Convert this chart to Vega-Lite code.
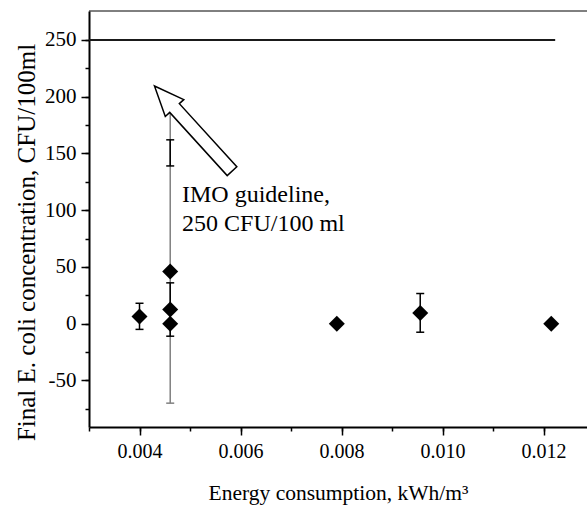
{
  "$schema": "https://vega.github.io/schema/vega-lite/v6.json",
  "width": 498,
  "height": 416,
  "autosize": "none",
  "padding": {"left": 89, "top": 11, "right": 0, "bottom": 81},
  "background": "white",
  "config": {
    "view": {"stroke": null},
    "font": "Liberation Serif",
    "axis": {
      "grid": false,
      "domainColor": "black",
      "domainWidth": 2,
      "tickColor": "black",
      "tickWidth": 1.5,
      "labelColor": "black",
      "labelFont": "Liberation Serif",
      "labelFontSize": 20,
      "labelOverlap": false,
      "titleFont": "Liberation Serif",
      "titleColor": "black",
      "titleFontWeight": "normal"
    }
  },
  "resolve": {"axis": {"x": "independent", "y": "independent"}},
  "datasets": {
    "pts": [
      {"e": 0.004, "c": 6.3},
      {"e": 0.004608, "c": 46},
      {"e": 0.004608, "c": 12.5},
      {"e": 0.004608, "c": 0},
      {"e": 0.007907, "c": 0},
      {"e": 0.009558, "c": 9.5},
      {"e": 0.012152, "c": 0}
    ],
    "err": [
      {"e": 0.004608, "lo": -70, "hi": 186, "col": "g"},
      {"e": 0.004, "lo": -5, "hi": 18, "col": "k"},
      {"e": 0.004608, "lo": -11, "hi": 36, "col": "k"},
      {"e": 0.004608, "lo": 139, "hi": 162, "col": "k"},
      {"e": 0.009558, "lo": -7.5, "hi": 26.6, "col": "k"}
    ],
    "guide": [{"e": 0.003, "e2": 0.01223, "c": 250}],
    "topline": [{"c": 275.5}],
    "arrow": [{"e": 0.005064, "c": 171.9}],
    "annot": [{"e": 0.004842, "c": 107.4, "t": "IMO guideline,\n250 CFU/100 ml"}]
  },
  "layer": [
    {
      "data": {"name": "topline"},
      "mark": {"type": "rule", "color": "black", "strokeWidth": 1},
      "encoding": {
        "y": {"field": "c", "type": "quantitative", "scale": {"domain": [-91, 275.5], "nice": false, "zero": false},
          "axis": {
            "orient": "left",
            "values": [-50, 0, 50, 100, 150, 200, 250],
            "labelExpr": "replace(datum.label, '\u2212', '-')",
            "labelFontSize": 21,
            "tickSize": 8,
            "labelPadding": 5,
            "title": "Final E. coli concentration,  CFU/100ml",
            "titleFontSize": 25,
            "titlePadding": 5,
            "titleY": 231
          }
        }
      }
    },
    {
      "data": {"name": "guide"},
      "mark": {"type": "rule", "color": "#1a1a1a", "strokeWidth": 2},
      "encoding": {
        "x": {"field": "e", "type": "quantitative", "scale": {"domain": [0.003, 0.01286], "nice": false, "zero": false},
          "axis": {
            "orient": "bottom",
            "values": [0.004, 0.006, 0.008, 0.01, 0.012],
            "format": ".3f",
            "tickSize": 8,
            "labelPadding": 6,
            "title": "Energy consumption, kWh/m³",
            "titleFontSize": 21.5,
            "titlePadding": 21
          }
        },
        "x2": {"field": "e2"},
        "y": {"field": "c", "type": "quantitative", "axis": null}
      }
    },
    {
      "data": {"name": "err"},
      "mark": {"type": "rule", "strokeWidth": 1.5},
      "encoding": {
        "x": {"field": "e", "type": "quantitative",
          "axis": {
            "orient": "bottom",
            "values": [0.003, 0.004, 0.005, 0.006, 0.007, 0.008, 0.009, 0.01, 0.011, 0.012],
            "tickSize": 4,
            "labels": false,
            "domain": false,
            "title": null
          }
        },
        "y": {"field": "lo", "type": "quantitative",
          "axis": {
            "orient": "left",
            "values": [-75, -50, -25, 0, 25, 50, 75, 100, 125, 150, 175, 200, 225, 250],
            "tickSize": 4,
            "labels": false,
            "domain": false,
            "title": null
          }
        },
        "y2": {"field": "hi"},
        "color": {"field": "col", "type": "nominal", "scale": {"domain": ["k", "g"], "range": ["black", "#808080"]}, "legend": null}
      }
    },
    {
      "data": {"name": "err"},
      "mark": {"type": "point", "shape": "stroke", "size": 64, "strokeWidth": 1.5, "opacity": 1},
      "encoding": {
        "x": {"field": "e", "type": "quantitative", "axis": null},
        "y": {"field": "lo", "type": "quantitative", "axis": null},
        "color": {"field": "col", "type": "nominal", "legend": null}
      }
    },
    {
      "data": {"name": "err"},
      "mark": {"type": "point", "shape": "stroke", "size": 64, "strokeWidth": 1.5, "opacity": 1},
      "encoding": {
        "x": {"field": "e", "type": "quantitative", "axis": null},
        "y": {"field": "hi", "type": "quantitative", "axis": null},
        "color": {"field": "col", "type": "nominal", "legend": null}
      }
    },
    {
      "data": {"name": "pts"},
      "mark": {"type": "point", "shape": "diamond", "size": 256, "filled": true, "color": "black", "opacity": 1},
      "encoding": {
        "x": {"field": "e", "type": "quantitative", "axis": null},
        "y": {"field": "c", "type": "quantitative", "axis": null}
      }
    },
    {
      "data": {"name": "arrow"},
      "mark": {
        "type": "point",
        "shape": "M0,-57.6L12.5,-27.8L6.5,-27.8L6.5,57.6L-6.5,57.6L-6.5,-27.8L-12.5,-27.8Z",
        "size": 4,
        "angle": 317.7,
        "filled": true,
        "fill": "white",
        "stroke": "black",
        "strokeWidth": 1.5,
        "opacity": 1,
        "fillOpacity": 1,
        "strokeOpacity": 1
      },
      "encoding": {
        "x": {"field": "e", "type": "quantitative", "axis": null},
        "y": {"field": "c", "type": "quantitative", "axis": null}
      }
    },
    {
      "data": {"name": "annot"},
      "mark": {"type": "text", "align": "left", "baseline": "alphabetic", "font": "Liberation Serif", "fontSize": 24, "lineHeight": 29, "lineBreak": "\n", "color": "black"},
      "encoding": {
        "x": {"field": "e", "type": "quantitative", "axis": null},
        "y": {"field": "c", "type": "quantitative", "axis": null},
        "text": {"field": "t"}
      }
    }
  ]
}
